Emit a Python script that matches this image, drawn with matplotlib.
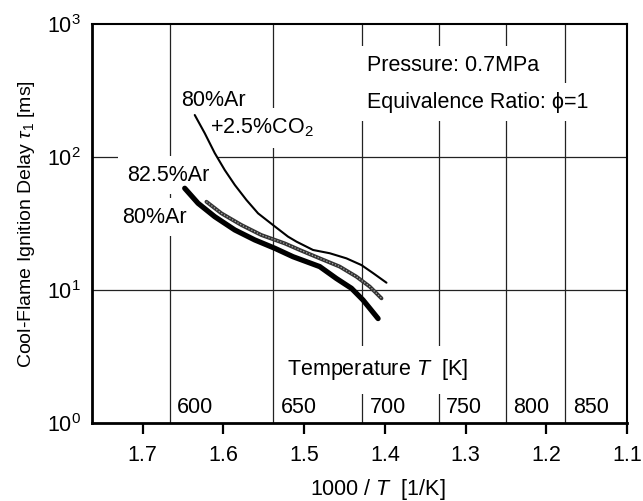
import matplotlib
matplotlib.use("Agg")
import matplotlib.pyplot as plt
import numpy as np

plt.rcParams['font.family'] = ['Liberation Sans', 'DejaVu Sans']
plt.rcParams['mathtext.fontset'] = 'custom'
plt.rcParams['mathtext.rm'] = 'Liberation Sans'
plt.rcParams['mathtext.it'] = 'Liberation Sans:italic'
plt.rcParams['mathtext.bf'] = 'Liberation Sans:bold'

# ---- data ----
co2_x = [1.6356, 1.6232, 1.6108, 1.5984, 1.5859, 1.5715, 1.5571, 1.5386, 1.5200,
         1.5095, 1.4890, 1.4683, 1.4476, 1.4290, 1.4146, 1.3980]
co2_y = [207, 151, 107, 79.8, 61.6, 47.5, 37.7, 30.8, 25.2,
         23.1, 20.0, 18.9, 17.3, 15.4, 13.4, 11.35]

ar80_x = [1.648, 1.6315, 1.6108, 1.586, 1.5612, 1.5364, 1.5138, 1.4807, 1.460,
          1.4414, 1.427, 1.4084]
ar80_y = [58.2, 44.9, 35.6, 28.3, 23.8, 20.6, 17.8, 15.0, 12.2,
          10.3, 8.4, 6.1]

ar825_x = [1.6211, 1.6025, 1.5777, 1.553, 1.524, 1.5055, 1.4807, 1.456, 1.4352,
           1.4187, 1.4042]
ar825_y = [46.1, 37.7, 30.8, 25.9, 22.4, 20.0, 17.3, 15.0, 12.6,
           10.6, 8.66]

x_ticks = [1.7, 1.6, 1.5, 1.4, 1.3, 1.2, 1.1]
temps = [600, 650, 700, 750, 800, 850]
y_grid = [10, 100]

FS = 15.5

fig = plt.figure(figsize=(6.43, 5.01), dpi=100)
ax = fig.add_axes([0.143, 0.1557, 0.832, 0.7963])

ax.set_yscale('log')
ax.set_ylim(1, 1000)
ax.set_xlim(1.763, 1.1)

# grid
for t in temps:
    ax.axvline(1000.0 / t, color='#222222', lw=0.9, zorder=1)
for g in y_grid:
    ax.axhline(g, color='#222222', lw=0.9, zorder=1)

# curves
ax.plot(co2_x, co2_y, color='black', lw=1.5, zorder=4, solid_capstyle='round',
        solid_joinstyle='round')
ax.plot(ar80_x, ar80_y, color='black', lw=3.8, zorder=4, solid_capstyle='round',
        solid_joinstyle='round')
ax.plot(ar825_x, ar825_y, color='#333333', lw=2.8, zorder=5, solid_capstyle='round',
        solid_joinstyle='round')
ax.plot(ar825_x, ar825_y, color='#aaaaaa', lw=0.9, ls=(0, (1, 1.5)), zorder=6)

box = dict(facecolor='white', edgecolor='none', pad=6)

# annotations
ax.text(1.4224, 492, 'Pressure: 0.7MPa', fontsize=FS, ha='left', va='center', bbox=box, zorder=2)
ax.text(1.4224, 259, 'Equivalence Ratio: ϕ=1', fontsize=FS, ha='left', va='center', bbox=box, zorder=2)

ax.text(1.652, 268, '80%Ar', fontsize=FS, ha='left', va='center', bbox=box, zorder=2)
ax.text(1.617, 165, '+2.5%CO$_2$', fontsize=FS, ha='left', va='center', bbox=box, zorder=2)
ax.text(1.72, 73, '82.5%Ar', fontsize=FS, ha='left', va='center', bbox=box, zorder=2)
ax.text(1.725, 35.4, '80%Ar', fontsize=FS, ha='left', va='center', bbox=box, zorder=2)

trans = ax.get_xaxis_transform()
ax.text(1.5216, 0.133, 'Temperature $T$  [K]', fontsize=FS, ha='left', va='center',
        transform=trans, bbox=dict(facecolor='white', edgecolor='none', pad=8), zorder=2)
for t in temps:
    ax.annotate(str(t), xy=(1000.0 / t, 0.04), xycoords=trans, xytext=(5.5, 0),
                textcoords='offset points', fontsize=FS, ha='left', va='center', zorder=2)

# axes styling
ax.set_xticks(x_ticks)
ax.set_xticklabels([f'{v:.1f}' for v in x_ticks])
ax.tick_params(axis='x', which='major', direction='out', length=8, width=1.6,
               labelsize=FS, pad=8, top=False)
ax.tick_params(axis='y', which='both', length=0, labelsize=FS, pad=8, right=False)
ax.minorticks_off()
ax.set_yticks([1, 10, 100, 1000])

for s in ['left', 'bottom']:
    ax.spines[s].set_linewidth(2.0)
for s in ['top', 'right']:
    ax.spines[s].set_linewidth(1.5)

ax.set_ylabel(r'Cool-Flame Ignition Delay $\tau_1$ [ms]', fontsize=14)
ax.yaxis.set_label_coords(-0.103, 0.5)
fig.text(378 / 643, (501 - 489) / 501, '1000 / $T$  [1/K]', fontsize=FS, ha='center', va='center')

fig.savefig('out.png', dpi=100)
